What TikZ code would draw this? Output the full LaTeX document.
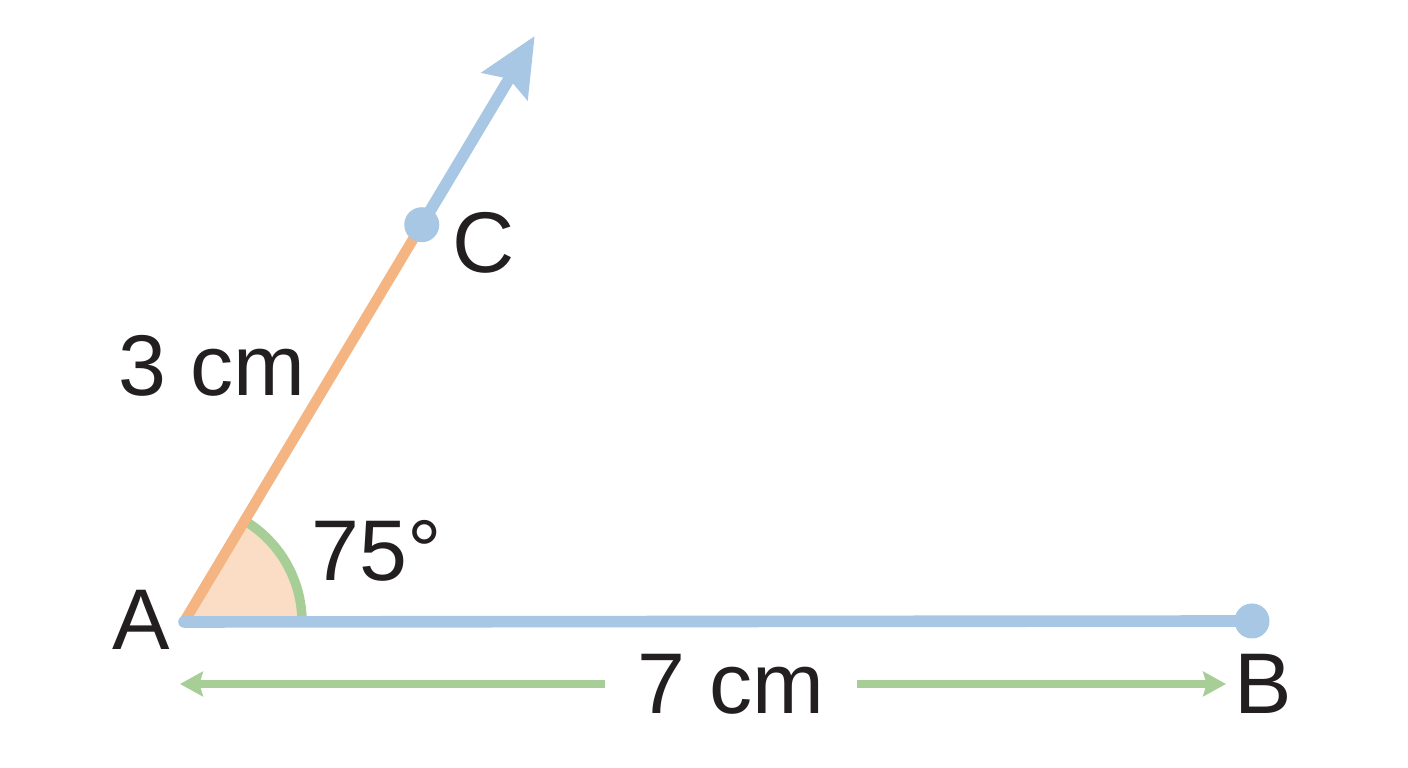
\documentclass[tikz,border=0pt]{standalone}
\usepackage{fontspec}
\setmainfont{Liberation Sans}
\usetikzlibrary{arrows.meta, calc, positioning}
\definecolor{rayblue}{HTML}{A7C7E4}
\definecolor{sideorange}{HTML}{F4B583}
\definecolor{anglefill}{HTML}{FADDC4}
\definecolor{dimgreen}{HTML}{A8CE98}
\definecolor{textdark}{HTML}{231F20}

\begin{document}
\begin{tikzpicture}[x=0.01cm, y=0.01cm,
    lbl/.style={font=\fontsize{24.5}{28}\selectfont, text=textdark, inner sep=0pt},
    dot/.style={circle, fill=rayblue, minimum size=0.35cm, inner sep=0pt},
    ray/.style={draw=rayblue, line width=3.3pt},
    side/.style={draw=sideorange, line width=3pt},
    dim/.style={draw=dimgreen, line width=2pt, -{Stealth[length=6.5pt, width=7pt, inset=1pt]}}]
    \useasboundingbox (0,0) rectangle (1408,-768);

    \coordinate (A) at (184,-622);
    \coordinate (B) at (1252,-621);
    \coordinate (C) at ($(A)+(59.1:463)$);
    \coordinate (tip) at ($(A)+(59.1:683)$);

    % angle at A
    \fill[anglefill] (A) -- ++(118,0) arc (0:59.1:118) -- cycle;
    \draw[dimgreen, line width=2.7pt] ($(A)+(118,0)$) arc (0:59.1:118);

    \draw[side] (A) -- (C);
    \draw[ray, -{Stealth[length=16.5pt, width=14.8pt, inset=2.3pt]}] (C) -- (tip);
    \draw[ray, line cap=round] (A) -- (B);
    \node[dot] (Bdot) at (B) {};
    \node[dot] (Cdot) at (C) {};

    \node[lbl] (la) at (141,-620) {A};
    \node[lbl] (lb) at (1263,-684) {B};
    \node[lbl] (lc) at (484,-243) {C};
    \node[lbl] (lac) at (212,-366) {3 cm};
    \node[lbl] (lang) at (377,-551) {75°};

    % length of AB
    \node[lbl, inner xsep=9pt] (lab) at (731,-684) {7 cm};
    \coordinate (dimL) at (180,-684);
    \coordinate (dimR) at (1226,-684);
    \draw[dim] (lab.west) -- (dimL);
    \draw[dim] (lab.east) -- (dimR);
\end{tikzpicture}
\end{document}
